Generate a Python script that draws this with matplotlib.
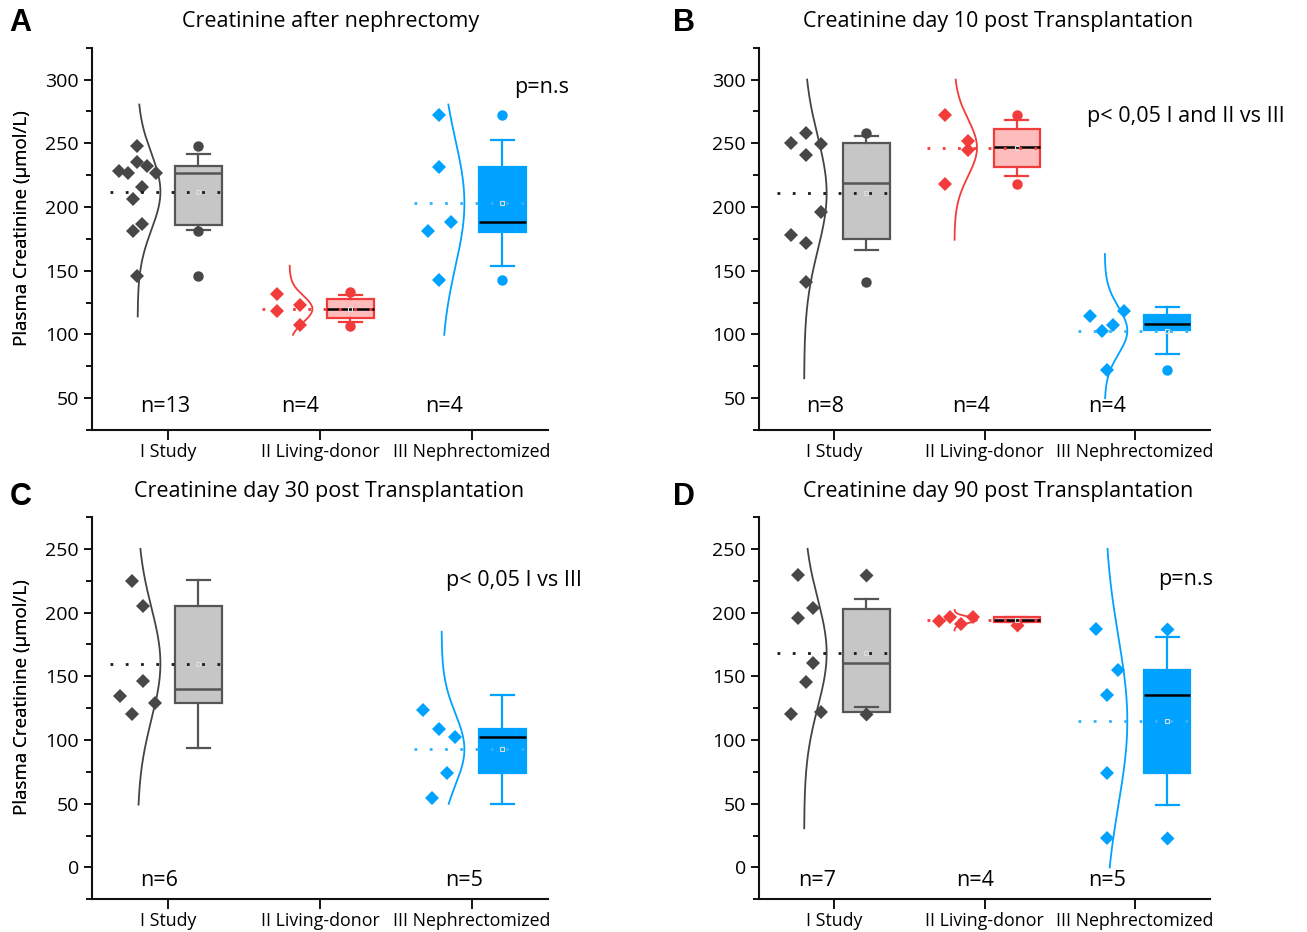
import numpy as np
import matplotlib.pyplot as plt
from matplotlib.ticker import MultipleLocator

plt.rcParams['font.family'] = ['Open Sans', 'DejaVu Sans']

groups = ["I Study", "II Living-donor", "III Nephrectomized"]
titles = ["Creatinine after nephrectomy",
          "Creatinine day 10 post Transplantation",
          "Creatinine day 30 post Transplantation",
          "Creatinine day 90 post Transplantation"]
letters = ["A", "B", "C", "D"]
p_texts = ["p=n.s", "p< 0,05 I and II vs III", "p< 0,05 I vs III", "p=n.s"]
n_texts = [["n=13", "n=4", "n=4"], ["n=8", "n=4", "n=4"],
           ["n=6", "", "n=5"], ["n=7", "n=4", "n=5"]]

# A - after nephrectomy (umol/L), one list per group
a_vals = [[248.2, 228.0, 227.0, 235.4, 232.2, 227.0, 215.4, 206.0, 186.4, 180.9, 146.1],
          [131.9, 118.0, 122.8, 107.1],
          [272.0, 231.1, 187.9, 180.9, 142.9]]
# box stats: whisker low, q1, median, q3, whisker high
a_box = [[182.0, 186.1, 226.7, 231.9, 241.9],
         [109.4, 112.5, 120.1, 127.8, 130.6],
         [153.4, 180.4, 188.0, 231.1, 252.6]]
a_extra = [[248.2, 180.9, 146.1], [132.9, 107.0], [272.0, 142.9]]
a_curve = [[114.1, 280.4], [99.7, 153.9], [99.7, 280.4]]

# B - day 10
b_vals = [[250.3, 258.1, 249.7, 240.6, 195.8, 178.3, 171.7, 141.1],
          [272.0, 251.6, 244.5, 218.1],
          [114.7, 102.9, 107.6, 118.0, 71.7]]
b_box = [[166.2, 175.1, 218.6, 250.0, 255.5],
         [224.1, 231.4, 247.4, 261.0, 268.3],
         [84.8, 103.1, 108.0, 114.9, 121.4]]
b_extra = [[258.4, 141.4], [272.0, 218.1], [71.7]]
b_curve = [[65.6, 300.0], [174.3, 300.0], [50.0, 163.1]]

# C - day 30 (no living-donor data)
c_vals = [[225.1, 205.1, 146.1, 134.3, 129.1, 120.2],
          [],
          [123.8, 108.9, 102.3, 74.0, 54.3]]
c_box = [[93.6, 129.1, 139.8, 205.1, 225.9],
         None,
         [49.9, 74.0, 102.3, 108.9, 135.1]]
c_extra = [[], [], []]
c_curve = [[49.3, 250.0], None, [49.9, 184.9]]

# D - day 90
d_vals = [[229.5, 203.3, 195.9, 160.8, 145.6, 120.2, 121.7],
          [193.6, 196.2, 191.0, 196.2],
          [187.0, 155.3, 135.1, 74.0, 23.1]]
d_box = [[126.2, 122.0, 160.8, 203.0, 210.4],
         [192.6, 192.6, 194.1, 196.2, 196.2],
         [48.7, 74.0, 135.1, 155.3, 180.9]]
d_extra = [[229.5, 120.7], [190.5], [187.0, 23.1]]
d_curve = [[30.7, 250.0], [186.0, 202.0], [0.0, 250.0]]

# horizontal jitter of the single points (offset from group centre)
a_jit = [[-0.202, -0.322, -0.263, -0.202, -0.14, -0.081, -0.169, -0.232, -0.169, -0.232, -0.202],
         [-0.286, -0.286, -0.132, -0.132],
         [-0.215, -0.215, -0.138, -0.292, -0.215]]
b_jit = [[-0.29, -0.19, -0.088, -0.19, -0.088, -0.29, -0.19, -0.19],
         [-0.266, -0.111, -0.111, -0.266],
         [-0.297, -0.22, -0.142, -0.069, -0.182]]
c_jit = [[-0.239, -0.162, -0.162, -0.316, -0.086, -0.239], [],
         [-0.32, -0.215, -0.112, -0.162, -0.265]]
d_jit = [[-0.239, -0.139, -0.239, -0.139, -0.19, -0.29, -0.088],
         [-0.304, -0.231, -0.156, -0.076],
         [-0.26, -0.109, -0.182, -0.182, -0.182]]

pt_col = ['#474747', '#f23c3c', '#00a2ff']
box_fill = ['#c6c6c6', '#ffbcbc', '#00a2ff']
box_edge = ['#555555', '#f23c3c', '#00a2ff']
med_col = ['#555555', '#000000', '#000000']
mean_col = ['#1a1a1a', '#f23c3c', '#33b1ff']

W, H = 1307, 932
fig = plt.figure(figsize=(W / 100, H / 100), dpi=100)

# axes boxes in pixels: left, top, right, bottom
boxes_px = [(92, 47.7, 548, 430), (759, 47.7, 1210, 430),
            (92, 517, 548, 899.3), (759, 517, 1210, 899.3)]
ylims = [(25, 325), (25, 325), (-25, 275), (-25, 275)]
title_px = [(331, 22), (998, 22), (329, 491), (998, 491)]
letter_px = [(20, 23), (684, 23), (21, 497), (684, 497)]
p_pos = [(3.28, 294), (2.68, 271), (2.83, 225), (3.157, 225.6)]
n_x = [[0.984, 1.872, 2.814], [0.94, 1.909, 2.817], [0.94, 2.0, 2.95], [0.888, 1.94, 2.817]]
n_y = [43.4, 43.4, -10.5, -10.5]
box_off = [0.2, 0.215, 0.2, 0.215]
extra_mark = ['o', 'o', 'o', 'D']

panels = [(a_vals, a_box, a_extra, a_curve, a_jit),
          (b_vals, b_box, b_extra, b_curve, b_jit),
          (c_vals, c_box, c_extra, c_curve, c_jit),
          (d_vals, d_box, d_extra, d_curve, d_jit)]

for k, (vals, bxs, extras, curves, jit) in enumerate(panels):
    l, t, r, b = boxes_px[k]
    ax = fig.add_axes([l / W, 1 - b / H, (r - l) / W, (b - t) / H])

    for g in range(3):
        v = np.array(vals[g])
        if len(v) == 0:
            continue
        xc = g + 1
        m = v.mean()
        sd = v.std(ddof=1)

        # normal distribution curve
        yy = np.linspace(curves[g][0], curves[g][1], 300)
        xx = xc - 0.2 + 0.15 * np.exp(-0.5 * ((yy - m) / sd) ** 2)
        ax.plot(xx, yy, color=box_edge[g] if g else '#444444', lw=1.3, zorder=2)

        # single points
        ax.plot(xc + np.array(jit[g]), v, 'D', color=pt_col[g], ms=6.8, mew=0, zorder=4)

        # box plot
        wl, q1, med, q3, wh = bxs[g]
        st = [dict(whislo=wl, q1=q1, med=med, q3=q3, whishi=wh,
                   fliers=extras[g], mean=m)]
        ax.bxp(st, positions=[xc + box_off[k]], widths=0.31, capwidths=0.155,
               patch_artist=True, showmeans=True, manage_ticks=False,
               boxprops=dict(facecolor=box_fill[g], edgecolor=box_edge[g], lw=1.6),
               whiskerprops=dict(color=box_edge[g], lw=1.6),
               capprops=dict(color=box_edge[g], lw=1.6),
               medianprops=dict(color=med_col[g], lw=1.8),
               meanprops=dict(marker='s', ms=3.5, mfc='none', mec='#dddddd', mew=0.8),
               flierprops=dict(marker=extra_mark[k], ms=7.5 if k < 3 else 6.8,
                               mfc=pt_col[g], mec='none'))

        # mean line
        ax.plot([xc - 0.38, xc + 0.4], [m, m], color=mean_col[g], lw=2,
                ls=(0, (1, 4.5)), zorder=5)

    for g in range(3):
        if n_texts[k][g]:
            ax.text(n_x[k][g], n_y[k], n_texts[k][g], ha='center', va='center', fontsize=15.5)

    ax.text(p_pos[k][0], p_pos[k][1], p_texts[k], ha='left', va='center',
            fontsize=15.5, clip_on=False)

    ax.set_xlim(0.5, 3.5)
    ax.set_ylim(*ylims[k])
    ax.set_xticks([1, 2, 3], groups, fontsize=12.8)
    ax.yaxis.set_major_locator(MultipleLocator(50))
    ax.yaxis.set_minor_locator(MultipleLocator(25))
    ax.tick_params(axis='y', labelsize=14, length=6, width=1.3)
    ax.tick_params(axis='y', which='minor', length=4, width=1.3)
    ax.tick_params(axis='x', length=7, width=1.3, pad=2.5)
    ax.spines[['top', 'right']].set_visible(False)
    for s in ['left', 'bottom']:
        ax.spines[s].set_linewidth(1.5)
        ax.spines[s].set_color('#111111')
    ax.set_ylabel("Plasma Creatinine (\u00b5mol/L)", fontsize=13.5)
    ax.yaxis.set_label_coords((31 - l) / (r - l), 0.529)

    fig.text(title_px[k][0] / W, 1 - title_px[k][1] / H, titles[k],
             ha='center', va='center', fontsize=15.5)
    fig.text(letter_px[k][0] / W, 1 - letter_px[k][1] / H, letters[k],
             ha='center', va='center', fontsize=22, fontweight='bold',
             family='Liberation Sans')

fig.savefig('out.png', dpi=100)
